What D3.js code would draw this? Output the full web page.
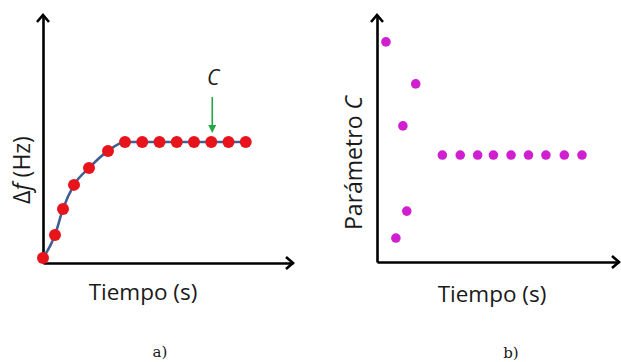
<!DOCTYPE html>
<html><head><meta charset="utf-8">
<script src="https://cdn.jsdelivr.net/npm/d3@7"></script>
<style>
html,body{margin:0;padding:0;background:#fff;}
svg{display:block;}
text{font-family:"Open Sans",sans-serif;fill:#1a1a1a;}
</style></head>
<body><svg id="chart" width="621" height="362"></svg>
<script>
// Panel a) frequency shift vs time
const timeA  = [0, 4.8, 8, 12.4, 18.4, 26, 32.8, 39.7, 46.6, 53.5, 60.4, 67.3, 74.2, 81.1];
const deltaF = [2, 11.3, 21.8, 31.5, 38.3, 45.2, 48.8, 48.8, 48.8, 48.8, 48.8, 48.8, 48.8, 48.8];
const arrowAtIndex = 11; // the "C" marker points at this sample
// Panel b) parameter C vs time
const timeB  = [3.7, 7.8, 10.7, 12.3, 16.0, 27.0, 34.4, 41.6, 48.1, 55.4, 62.6, 69.8, 77.4, 84.7];
const paramC = [89.1, 9.7, 55.1, 20.6, 72.1, 43.3, 43.3, 43.3, 43.3, 43.3, 43.3, 43.3, 43.3, 43.3];
const labels = {xA: "Tiempo (s)", xB: "Tiempo (s)", capA: "a)", capB: "b)"};

const svg = d3.select("#chart");

function drawAxes(x, y) {
  const g = svg.append("g");
  g.append("g").attr("transform", `translate(0,${y.range()[0]})`)
    .call(d3.axisBottom(x).ticks(0).tickSizeOuter(0));
  g.append("g").attr("transform", `translate(${x.range()[0]},0)`)
    .call(d3.axisLeft(y).ticks(0).tickSizeOuter(0));
  g.selectAll(".domain").attr("stroke", "#000").attr("stroke-width", 2.6);
  g.selectAll(".tick").remove();
  const x0 = x.range()[0], x1 = x.range()[1], y0 = y.range()[0], y1 = y.range()[1];
  const ah = 6, al = 7;
  g.append("path").attr("d", `M${x0 - ah},${y1 + al}L${x0},${y1}L${x0 + ah},${y1 + al}`)
    .attr("fill", "none").attr("stroke", "#000").attr("stroke-width", 2.6).attr("stroke-linejoin", "miter");
  g.append("path").attr("d", `M${x1 - al},${y0 - ah}L${x1},${y0}L${x1 - al},${y0 + ah}`)
    .attr("fill", "none").attr("stroke", "#000").attr("stroke-width", 2.6).attr("stroke-linejoin", "miter");
}

// ---------- Panel a ----------
const xA = d3.scaleLinear().domain([0, 100]).range([43, 293]);
const yA = d3.scaleLinear().domain([0, 100]).range([263, 15]);
drawAxes(xA, yA);

const fitLine = d3.line().x((d, i) => xA(timeA[i])).y(d => yA(d)).curve(d3.curveMonotoneX);
svg.append("path").datum(deltaF).attr("d", fitLine)
  .attr("fill", "none").attr("stroke", "#3f5f96").attr("stroke-width", 2.6);

svg.append("g").selectAll("circle").data(deltaF).join("circle")
  .attr("cx", (d, i) => xA(timeA[i])).attr("cy", d => yA(d)).attr("r", 6)
  .attr("fill", "#e8141c");

// C marker arrow
const axx = xA(timeA[arrowAtIndex]) + 1, ayTop = yA(deltaF[arrowAtIndex]) - 45, ayBot = yA(deltaF[arrowAtIndex]) - 9;
svg.append("line").attr("x1", axx).attr("x2", axx).attr("y1", ayTop).attr("y2", ayBot - 6)
  .attr("stroke", "#22a84a").attr("stroke-width", 1.6);
svg.append("path").attr("d", `M${axx - 4},${ayBot - 8}L${axx + 4},${ayBot - 8}L${axx},${ayBot}Z`).attr("fill", "#22a84a");
svg.append("text").attr("x", axx + 1).attr("y", ayTop - 12).attr("text-anchor", "middle")
  .attr("font-size", 21).attr("font-style", "italic").text("C");

svg.append("text").attr("x", 143).attr("y", 300).attr("text-anchor", "middle").attr("font-size", 22.5).text(labels.xA);
const yla = svg.append("text").attr("transform", "translate(30,170) rotate(-90)").attr("text-anchor", "middle").attr("font-size", 23);
yla.append("tspan").text("Δ");
yla.append("tspan").attr("font-style", "italic").text("f");
yla.append("tspan").text(" (Hz)");

// ---------- Panel b ----------
const xB = d3.scaleLinear().domain([0, 100]).range([377, 619]);
const yB = d3.scaleLinear().domain([0, 100]).range([262, 15]);
drawAxes(xB, yB);

svg.append("g").selectAll("circle").data(paramC).join("circle")
  .attr("cx", (d, i) => xB(timeB[i])).attr("cy", d => yB(d)).attr("r", 4.8)
  .attr("fill", "#d01fd0");

svg.append("text").attr("x", 492).attr("y", 302).attr("text-anchor", "middle").attr("font-size", 22.5).text(labels.xB);
const ylb = svg.append("text").attr("transform", "translate(362,163) rotate(-90)").attr("text-anchor", "middle").attr("font-size", 23);
ylb.append("tspan").text("Parámetro ");
ylb.append("tspan").attr("font-style", "italic").text("C");

// captions
svg.append("text").attr("x", 160).attr("y", 357).attr("text-anchor", "middle")
  .style("font-family", "'DejaVu Serif', serif").attr("font-size", 15).text(labels.capA);
svg.append("text").attr("x", 511).attr("y", 358).attr("text-anchor", "middle")
  .style("font-family", "'DejaVu Serif', serif").attr("font-size", 15).text(labels.capB);
</script></body></html>
